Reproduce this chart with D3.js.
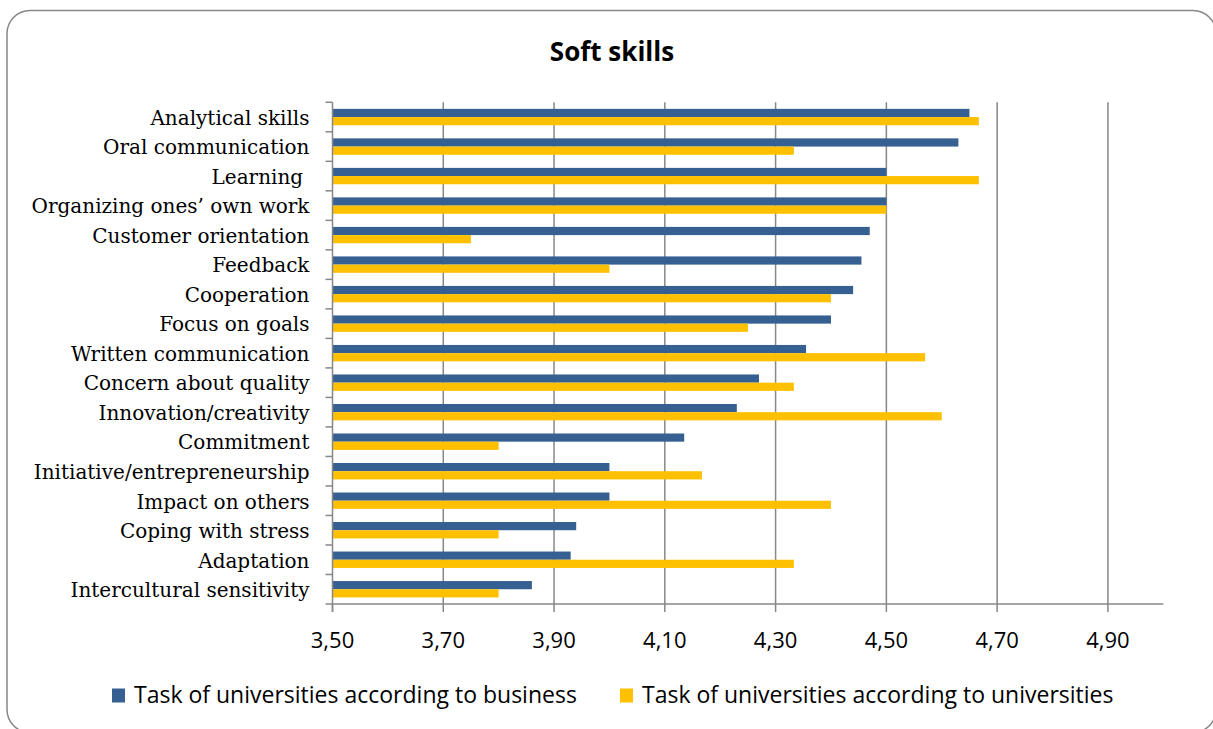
<!DOCTYPE html>
<html>
<head>
<meta charset="utf-8">
<script src="https://cdn.jsdelivr.net/npm/d3@7"></script>
<style>
  html, body { margin: 0; padding: 0; background: #fff; }
  svg { display: block; }
</style>
</head>
<body>
<svg id="chart" width="1213" height="729"></svg>
<script>
// Skill categories, top to bottom
const categories = [
  "Analytical skills",
  "Oral communication",
  "Learning ",
  "Organizing ones\u2019 own work",
  "Customer orientation",
  "Feedback",
  "Cooperation",
  "Focus on goals",
  "Written communication",
  "Concern about quality",
  "Innovation/creativity",
  "Commitment",
  "Initiative/entrepreneurship",
  "Impact on others",
  "Coping with stress",
  "Adaptation",
  "Intercultural sensitivity"
];

// Mean scores per skill
const businessValues = [4.65, 4.63, 4.50, 4.50, 4.47, 4.455, 4.44, 4.40, 4.355, 4.27, 4.23, 4.135, 4.00, 4.00, 3.94, 3.93, 3.86];
const universityValues = [4.667, 4.333, 4.667, 4.50, 3.75, 4.00, 4.40, 4.25, 4.57, 4.333, 4.60, 3.80, 4.167, 4.40, 3.80, 4.333, 3.80];

const seriesNames = [
  "Task of universities according to business",
  "Task of universities according to universities"
];
const seriesColors = ["#376092", "#FFC000"];

const xDomain = [3.5, 5.0];
const xTickValues = [3.5, 3.7, 3.9, 4.1, 4.3, 4.5, 4.7, 4.9];
const chartTitle = "Soft skills";

const svg = d3.select("#chart");
const plot = { left: 332.5, right: 1163.3, top: 102.3, bottom: 604 };
const axisColor = "#878787";

// Outer frame
svg.append("rect")
  .attr("x", 7).attr("y", 10.5)
  .attr("width", 1209).attr("height", 722)
  .attr("rx", 23).attr("ry", 23)
  .attr("fill", "#fff")
  .attr("stroke", axisColor)
  .attr("stroke-width", 1.5);

// Title
svg.append("text")
  .attr("x", 612).attr("y", 61)
  .attr("text-anchor", "middle")
  .attr("font-family", "'Open Sans', sans-serif")
  .attr("font-weight", "bold")
  .attr("font-size", 26)
  .attr("fill", "#000")
  .text(chartTitle);

const x = d3.scaleLinear().domain(xDomain).range([plot.left, plot.right]);
const y = d3.scaleBand().domain(categories).range([plot.top, plot.bottom]).padding(0);
const ySub = d3.scaleBand().domain([0, 1]).range([0, y.bandwidth()])
  .paddingInner(0).paddingOuter(0.8);

// Vertical gridlines
svg.append("g")
  .selectAll("line")
  .data(xTickValues.slice(1))
  .join("line")
  .attr("x1", d => x(d)).attr("x2", d => x(d))
  .attr("y1", plot.top).attr("y2", plot.bottom)
  .attr("stroke", axisColor)
  .attr("stroke-width", 1.5);

// Bars
const rows = categories.map((c, i) => ({ c, vals: [businessValues[i], universityValues[i]] }));
const barG = svg.append("g");
rows.forEach(r => {
  r.vals.forEach((v, s) => {
    barG.append("rect")
      .attr("x", x(xDomain[0]))
      .attr("y", y(r.c) + ySub(s))
      .attr("width", x(v) - x(xDomain[0]))
      .attr("height", ySub.bandwidth())
      .attr("fill", seriesColors[s]);
  });
});

// Category axis (left)
const yAxis = svg.append("g");
yAxis.append("line")
  .attr("x1", plot.left).attr("x2", plot.left)
  .attr("y1", plot.top).attr("y2", plot.bottom + 8)
  .attr("stroke", axisColor).attr("stroke-width", 1.5);
const bounds = categories.map(c => y(c)).concat([plot.bottom]);
yAxis.selectAll("line.tick")
  .data(bounds)
  .join("line")
  .attr("class", "tick")
  .attr("x1", plot.left - 7).attr("x2", plot.left)
  .attr("y1", d => d).attr("y2", d => d)
  .attr("stroke", axisColor).attr("stroke-width", 1.5);
yAxis.selectAll("text")
  .data(categories)
  .join("text")
  .attr("x", 309.5)
  .attr("y", d => y(d) + y.bandwidth() / 2 + 7.8)
  .attr("text-anchor", "end")
  .attr("font-family", "'DejaVu Serif', serif")
  .attr("font-size", 20)
  .attr("fill", "#000")
  .style("white-space", "pre")
  .text(d => d);

// Value axis (bottom)
const fmt = d => d3.format(".2f")(d).replace(".", ",");
const xAxis = svg.append("g");
xAxis.append("line")
  .attr("x1", plot.left).attr("x2", plot.right)
  .attr("y1", plot.bottom).attr("y2", plot.bottom)
  .attr("stroke", axisColor).attr("stroke-width", 1.5);
xAxis.selectAll("line.tick")
  .data(xTickValues)
  .join("line")
  .attr("class", "tick")
  .attr("x1", d => x(d)).attr("x2", d => x(d))
  .attr("y1", plot.bottom).attr("y2", plot.bottom + 8)
  .attr("stroke", axisColor).attr("stroke-width", 1.5);
xAxis.selectAll("text")
  .data(xTickValues)
  .join("text")
  .attr("x", d => x(d))
  .attr("y", 647.5)
  .attr("text-anchor", "middle")
  .attr("font-family", "'Open Sans', sans-serif")
  .attr("font-size", 22)
  .attr("fill", "#000")
  .text(fmt);

// Legend
const legendX = [112, 620];
const legend = svg.append("g");
seriesNames.forEach((name, i) => {
  legend.append("rect")
    .attr("x", legendX[i]).attr("y", 688.5)
    .attr("width", 13).attr("height", 14)
    .attr("fill", seriesColors[i]);
  legend.append("text")
    .attr("x", legendX[i] + 22).attr("y", 702.5)
    .attr("font-family", "'Open Sans', sans-serif")
    .attr("font-size", 23)
    .attr("fill", "#000")
    .text(name);
});
</script>
</body>
</html>
